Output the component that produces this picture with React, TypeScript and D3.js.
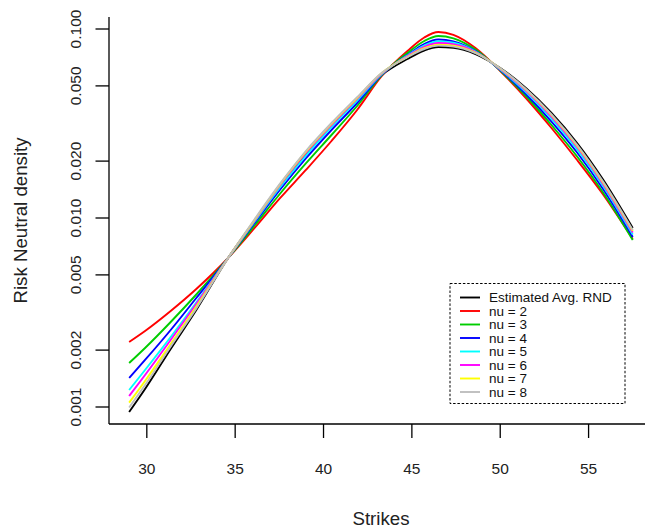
import React from "react";
import * as d3 from "d3";

const strikes = [29, 29.9, 31.35, 32.8, 34.6, 36.1, 37.55, 39, 40.45, 41.9, 43.3, 44.75, 45.7, 46.5, 47.35, 48.6, 50, 51.45, 52.9, 54.35, 55.8, 57.5];

const avgRND = [0.000941, 0.001245, 0.002027, 0.00326, 0.006143, 0.009641, 0.01477, 0.02181, 0.03067, 0.04211, 0.0571, 0.06939, 0.07696, 0.0803, 0.07953, 0.07374, 0.06218, 0.04873, 0.03594, 0.02494, 0.01608, 0.008854];
const nu2 = [0.002208, 0.002524, 0.003221, 0.004211, 0.006143, 0.008854, 0.01276, 0.01795, 0.02555, 0.03728, 0.0564, 0.07649, 0.09016, 0.09641, 0.09318, 0.07934, 0.05995, 0.04314, 0.02994, 0.02027, 0.0134, 0.007743];
const nu3 = [0.001709, 0.002052, 0.002817, 0.003938, 0.006143, 0.009127, 0.01348, 0.01943, 0.02749, 0.03914, 0.0571, 0.07465, 0.0864, 0.09183, 0.08929, 0.0779, 0.06031, 0.04421, 0.03105, 0.02115, 0.01373, 0.007649];
const nu4 = [0.001424, 0.001773, 0.002555, 0.003773, 0.006143, 0.009409, 0.01415, 0.02065, 0.02922, 0.04059, 0.05745, 0.07285, 0.0833, 0.08799, 0.08608, 0.07649, 0.06068, 0.0453, 0.0324, 0.02221, 0.01432, 0.007934];
const nu5 = [0.00123, 0.00157, 0.002346, 0.003572, 0.006143, 0.009583, 0.01459, 0.02141, 0.0303, 0.04185, 0.0578, 0.07241, 0.08179, 0.08608, 0.08452, 0.07602, 0.06105, 0.04642, 0.03361, 0.02304, 0.01486, 0.008179];
const nu6 = [0.001143, 0.001477, 0.002262, 0.003507, 0.006143, 0.0097, 0.01495, 0.02208, 0.03105, 0.04273, 0.05815, 0.07197, 0.0805, 0.08432, 0.08299, 0.07556, 0.06143, 0.04727, 0.03444, 0.02375, 0.01523, 0.008381];
const nu7 = [0.001054, 0.001373, 0.002154, 0.003402, 0.006143, 0.009759, 0.0151, 0.02235, 0.03143, 0.04314, 0.05851, 0.07127, 0.07924, 0.08269, 0.08169, 0.07492, 0.0618, 0.04785, 0.03499, 0.02416, 0.01551, 0.008535];
const nu8 = [0.000994, 0.001307, 0.00209, 0.00332, 0.006143, 0.009855, 0.01524, 0.02262, 0.03182, 0.04357, 0.05872, 0.07092, 0.07838, 0.08169, 0.0807, 0.07447, 0.06195, 0.04814, 0.03533, 0.02442, 0.0157, 0.00864];

const seriesNames = ["Estimated Avg. RND", "nu = 2", "nu = 3", "nu = 4", "nu = 5", "nu = 6", "nu = 7", "nu = 8"];
const seriesValues = [avgRND, nu2, nu3, nu4, nu5, nu6, nu7, nu8];
const seriesColors = ["#000000", "#FF0000", "#00CD00", "#0000FF", "#00FFFF", "#FF00FF", "#FFFF00", "#BEBEBE"];

const xTicks = [30, 35, 40, 45, 50, 55];
const yTicks = [0.001, 0.002, 0.005, 0.01, 0.02, 0.05, 0.1];
const yTickLabels = ["0.001", "0.002", "0.005", "0.010", "0.020", "0.050", "0.100"];

const W = 645;
const H = 531;
const FONT = "'Liberation Sans', Arial, sans-serif";

export default function App() {
  const x = d3.scaleLinear().domain([27.86, 58.64]).range([109, 652.9]);
  const y = d3.scaleLog().domain([0.001, 0.1]).range([407, 29]);
  const plotLeft = 109;
  const plotTop = 17;
  const plotBottom = 424;

  const line = d3
    .line<number>()
    .x((_, i) => x(strikes[i]))
    .y((d) => y(d))
    .curve(d3.curveMonotoneX);

  const legX = 450;
  const legY = 283.5;
  const legW = 175;
  const legH = 120;
  const rowY0 = 297.5;
  const rowStep = 13.5;

  return (
    <svg
      width={W}
      height={H}
      style={{ position: "absolute", left: 0, top: 0, background: "#fff" }}
      fontFamily={FONT}
    >
      <rect x={0} y={0} width={W} height={H} fill="#fff" />
      {/* curves */}
      <g fill="none" strokeWidth={1.9} strokeLinejoin="round">
        {seriesValues.map((vals, k) => (
          <path key={k} d={line(vals) || ""} stroke={seriesColors[k]} />
        ))}
      </g>
      {/* axes (bty = "l") */}
      <g stroke="#000" strokeWidth={1.3} fill="none">
        <line x1={plotLeft} y1={plotTop} x2={plotLeft} y2={plotBottom} />
        <line x1={plotLeft} y1={plotBottom} x2={W} y2={plotBottom} />
        {yTicks.map((t) => (
          <line key={"yt" + t} x1={plotLeft - 13.5} x2={plotLeft} y1={y(t)} y2={y(t)} />
        ))}
        {xTicks.map((t) => (
          <line key={"xt" + t} x1={x(t)} x2={x(t)} y1={plotBottom} y2={plotBottom + 14} />
        ))}
      </g>
      <g fontSize={15.5} fill="#222">
        {yTicks.map((t, i) => (
          <text
            key={"yl" + t}
            transform={`translate(80.5,${y(t)}) rotate(-90)`}
            textAnchor="middle"
          >
            {yTickLabels[i]}
          </text>
        ))}
        {xTicks.map((t) => (
          <text key={"xl" + t} x={x(t)} y={473.5} textAnchor="middle">
            {t}
          </text>
        ))}
      </g>
      <text x={381} y={524.5} textAnchor="middle" fontSize={18.7} fill="#222">
        Strikes
      </text>
      <text
        transform={`translate(27,${(plotTop + plotBottom) / 2}) rotate(-90)`}
        textAnchor="middle"
        fontSize={18.7}
        fill="#222"
      >
        Risk Neutral density
      </text>
      {/* legend */}
      <rect
        x={legX}
        y={legY}
        width={legW}
        height={legH}
        fill="#fff"
        stroke="#000"
        strokeWidth={1}
        strokeDasharray="2.5,1.8"
      />
      {seriesNames.map((name, k) => (
        <g key={"lg" + k}>
          <line
            x1={460}
            x2={480}
            y1={rowY0 + k * rowStep}
            y2={rowY0 + k * rowStep}
            stroke={seriesColors[k]}
            strokeWidth={1.9}
          />
          <text x={489} y={rowY0 + k * rowStep + 4.8} fontSize={13.5} fill="#111">
            {name}
          </text>
        </g>
      ))}
    </svg>
  );
}
